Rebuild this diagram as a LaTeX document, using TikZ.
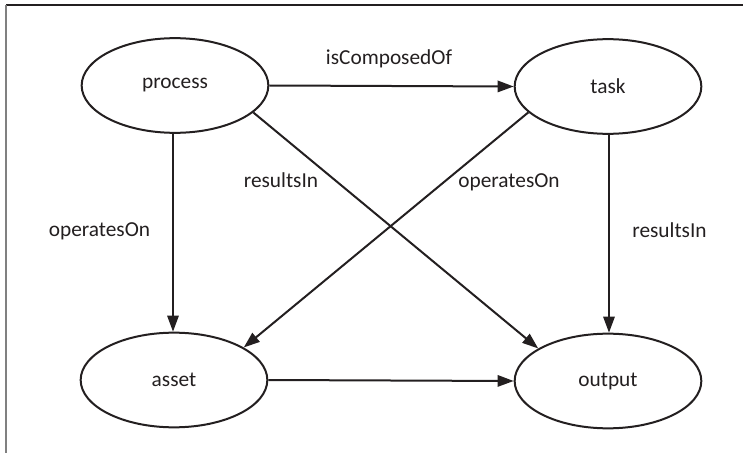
\documentclass[tikz,border=0pt]{standalone}
\usepackage{fontspec}
\setmainfont{Carlito}
\usetikzlibrary{shapes.geometric,arrows.meta}
\definecolor{ink}{HTML}{231F20}
\tikzset{
  ent/.style={ellipse, draw=ink, line width=1.5pt, minimum width=140pt, minimum height=71pt, inner sep=0pt, font=\fontsize{16pt}{19pt}\selectfont, text=ink},
  rel/.style={draw=ink, line width=1.5pt, -{Triangle[length=12pt,width=8.5pt]}},
  lbl/.style={anchor=base, font=\fontsize{16pt}{19pt}\selectfont, text=ink, inner sep=0pt}
}
\begin{document}
\begin{tikzpicture}[x=0.75pt,y=-0.75pt]
\useasboundingbox (0,0) rectangle (747,453);
\draw[ink, line width=0.9pt] (6,5) -- (743,5);
\draw[gray, line width=1.3pt] (6,5) -- (6,453);
\node[ent] (process) at (175,85.5) {process};
\node[ent] (task) at (608,86.5) {task};
\node[ent] (asset) at (174,380) {asset};
\node[ent] (output) at (608,381) {output};
\draw[rel] (process.east) -- (task.west);
\draw[rel] (process.south -| 173,0) -- (asset.north -| 173,0);
\draw[rel] (task.south -| 609,0) -- (output.north -| 609,0);
\draw[rel] (asset.east) -- (output.west);
\draw[rel] (process.-19.5) -- (output.155);
\draw[rel] (task.198) -- (asset.25);
\node[lbl] (l1) at (389,65) {isComposedOf};
\node[lbl] (l2) at (99.5,236.5) {operatesOn};
\node[lbl] (l3) at (669.5,237) {resultsIn};
\node[lbl] (l4) at (281,187) {resultsIn};
\node[lbl] (l5) at (509,187) {operatesOn};
\end{tikzpicture}
\end{document}
